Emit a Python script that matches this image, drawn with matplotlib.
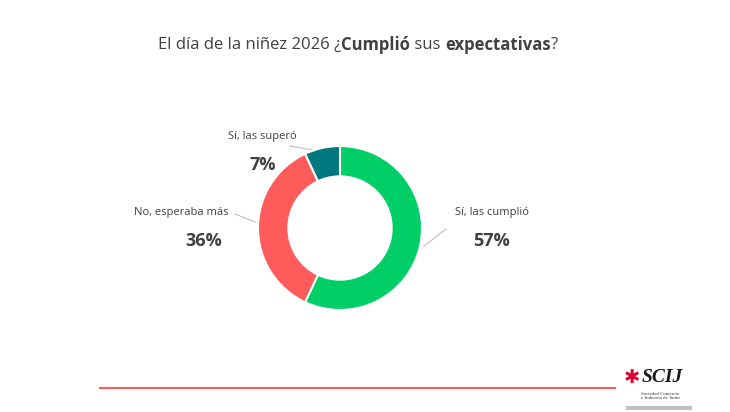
import matplotlib
matplotlib.use("Agg")
import matplotlib.pyplot as plt

labels = ["Sí, las cumplió", "No, esperaba más", "Sí, las superó"]
values = [57, 36, 7]
colors = ["#00CF68", "#FF5B5B", "#00787D"]

plt.rcParams['font.family'] = ['Open Sans', 'DejaVu Sans']
fig = plt.figure(figsize=(7.3, 4.12), dpi=100)

# overlay axes in pixel coordinates
bg = fig.add_axes([0, 0, 1, 1])
bg.set_xlim(0, 730)
bg.set_ylim(412, 0)
bg.axis("off")

cx, cy, r = 340, 228, 82
pax = fig.add_axes([(cx - r) / 730, (412 - cy - r) / 412, 2 * r / 730, 2 * r / 412])
pax.pie(values, colors=colors, startangle=90, counterclock=False,
        wedgeprops=dict(width=0.37, edgecolor="white", linewidth=1.5))
pax.set_xlim(-1, 1)
pax.set_ylim(-1, 1)
pax.set_aspect("equal")

# title in pieces (regular / bold)
parts = [("El día de la niñez 2026 ¿", "normal"), ("Cumplió", "bold"),
         (" sus ", "normal"), ("expectativas", "bold"), ("?", "normal")]
fig.canvas.draw()
rend = fig.canvas.get_renderer()
texts = []
for s, w in parts:
    texts.append(bg.text(0, 45, s, fontsize=12, fontweight=w, color="#404040",
                         va="center", ha="left"))
widths = [t.get_window_extent(rend).width for t in texts]
x = 358 - sum(widths) / 2
for t, w in zip(texts, widths):
    t.set_x(x)
    x += w

# labels
pos = [(455, 212, 473, 241, "left"), (228, 212, 222, 241, "right"),
       (262, 136, 263, 165, "center")]
for lab, v, (lx, ly, vx, vy, ha) in zip(labels, values, pos):
    bg.text(lx, ly, lab, fontsize=8, color="#404040", ha=ha, va="center")
    bg.text(vx, vy, f"{v}%", fontsize=13, fontweight="bold", color="#404040",
            ha=ha, va="center")

# leader lines
for xs, ys in [((424, 446), (246, 229)), ((255, 235), (222, 214)), ((313, 290), (150, 146))]:
    bg.plot(xs, ys, color="#BFBFBF", lw=0.8)

# bottom line and logo
bg.plot([100, 615], [388, 388], color="#FF5B5B", lw=1.5)
bg.text(632, 378, "✱", fontsize=14, color="#E0002A", ha="center", va="center")
bg.text(662, 378, "SCIJ", fontsize=14, fontstyle="italic", fontweight="bold",
        family="Liberation Serif", color="#1A1A1A", ha="center", va="center")
bg.text(660, 396, "Sociedad Comercio\ne Industria de Junín", fontsize=3.5,
        color="#333333", ha="center", va="center", family="Liberation Serif")
bg.plot([628, 690], [408, 408], color="#C0C0C0", lw=3)

fig.savefig("out.png", dpi=100)
